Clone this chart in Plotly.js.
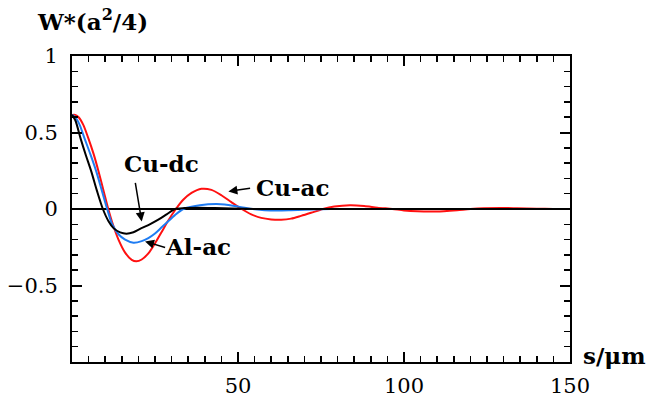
<!DOCTYPE html>
<html>
<head>
<meta charset="utf-8">
<script src="https://cdn.plot.ly/plotly-3.0.1.min.js"></script>
<style>html,body{margin:0;padding:0;background:#fff;}#chart{width:658px;height:402px;}</style>
</head>
<body>
<div id="chart"></div>
<script>
// Cu-ac (red)
const sCuAc = [0, 1, 2, 3.4, 4.8, 6.5, 8, 9.5, 10.8, 12.3, 14, 16, 18, 19.4, 21, 23, 25, 27, 29, 31.3, 33.5, 36, 39, 42, 45, 48, 51.1, 54, 57, 60, 63, 66, 69, 72, 75.6, 79, 83.7, 88, 92, 96.5, 100, 104, 108, 112, 116, 120, 124, 129, 134, 140, 145, 150];
const wCuAc = [0.615, 0.615, 0.6, 0.55, 0.47, 0.36, 0.245, 0.12, 0.01, -0.1, -0.2, -0.285, -0.333, -0.342, -0.33, -0.29, -0.225, -0.15, -0.075, 0, 0.06, 0.105, 0.132, 0.125, 0.09, 0.045, 0, -0.035, -0.058, -0.068, -0.07, -0.063, -0.045, -0.025, 0, 0.016, 0.025, 0.02, 0.009, 0, -0.009, -0.015, -0.017, -0.014, -0.008, 0, 0.005, 0.007, 0.005, 0.002, 0, 0];
// Al-ac (blue)
const sAlAc = [0, 1, 2.3, 3.8, 5.5, 7.3, 9, 10.6, 12.1, 14, 16, 18.5, 21, 23, 25, 27, 29, 31, 33.5, 36, 38.5, 41, 43.6, 46, 49, 52, 55, 58, 62, 66, 70, 75, 80, 90, 100, 150];
const wAlAc = [0.615, 0.6, 0.55, 0.46, 0.36, 0.246, 0.12, 0, -0.1, -0.165, -0.2, -0.22, -0.21, -0.19, -0.16, -0.12, -0.08, -0.04, 0, 0.015, 0.025, 0.031, 0.033, 0.03, 0.02, 0.008, -0.002, -0.008, -0.01, -0.008, -0.005, -0.002, 0, 0, 0, 0];
// Cu-dc (black)
const sCuDc = [0, 1, 2.6, 4.2, 5.8, 7.5, 9.3, 11, 12.5, 14.5, 16.4, 18.5, 20.5, 23, 26, 28.5, 31, 34, 38, 43, 48, 55, 65, 150];
const wCuDc = [0.615, 0.58, 0.46, 0.35, 0.246, 0.12, 0, -0.08, -0.125, -0.153, -0.161, -0.152, -0.13, -0.105, -0.07, -0.035, 0, 0.006, 0.008, 0.006, 0.003, 0, 0, 0];

const xTickVals = [50, 100, 150];
const xTickText = ["50", "100", "150"];
const yTickVals = [-0.5, 0, 0.5, 1];
const yTickText = ["\u22120.5", "0", "0.5", "1"];

const serif = "DejaVu Serif";

const traces = [
  {x: sCuAc, y: wCuAc, mode: "lines", line: {color: "#ff1010", width: 2, shape: "spline", smoothing: 0.8}, name: "Cu-ac"},
  {x: sAlAc, y: wAlAc, mode: "lines", line: {color: "#1f7cf2", width: 2, shape: "spline", smoothing: 0.8}, name: "Al-ac"},
  {x: sCuDc, y: wCuDc, mode: "lines", line: {color: "#000000", width: 2, shape: "spline", smoothing: 0.8}, name: "Cu-dc"}
];

const axisCommon = {
  showline: true, linewidth: 2, linecolor: "#000", mirror: "ticks",
  ticks: "inside", ticklen: 10, tickwidth: 2, tickcolor: "#000",
  showgrid: false, tickfont: {family: serif, size: 21, color: "#000"},
  tickmode: "array"
};

const layout = {
  width: 658, height: 402,
  margin: {l: 72, r: 88, t: 56, b: 40},
  paper_bgcolor: "#fff", plot_bgcolor: "#fff",
  font: {family: serif, color: "#000"},
  showlegend: false,
  xaxis: Object.assign({}, axisCommon, {
    range: [0, 150], tickvals: xTickVals, ticktext: xTickText, zeroline: false,
    ticklabelstandoff: 4,
    minor: {tickmode: "linear", tick0: 0, dtick: 5, ticks: "inside", ticklen: 6, tickwidth: 1.5, tickcolor: "#000", showgrid: false}
  }),
  yaxis: Object.assign({}, axisCommon, {
    range: [-1, 1], tickvals: yTickVals, ticktext: yTickText,
    zeroline: true, zerolinewidth: 2, zerolinecolor: "#000",
    ticklabelstandoff: 8,
    minor: {tickmode: "linear", tick0: 0, dtick: 0.1, ticks: "inside", ticklen: 6, tickwidth: 1.5, tickcolor: "#000", showgrid: false}
  }),
  annotations: [
    {xref: "paper", yref: "paper", x: -0.074, y: 1.118, xanchor: "left", yanchor: "middle",
     text: "<b>W*(a<sup>2</sup>/4)</b>", showarrow: false, font: {family: serif, size: 23, color: "#000"}},
    {xref: "paper", yref: "paper", x: 1.022, y: 0.02, xanchor: "left", yanchor: "middle",
     text: "<b>s/\u03bcm</b>", showarrow: false, font: {family: serif, size: 23, color: "#000"}},
    {x: 27.1, y: 0.30, text: "<b>Cu-dc</b>", showarrow: false, font: {family: serif, size: 23, color: "#000"}},
    {x: 66.3, y: 0.139, text: "<b>Cu-ac</b>", showarrow: false, font: {family: serif, size: 23, color: "#000"}},
    {x: 37.8, y: -0.245, text: "<b>Al-ac</b>", showarrow: false, font: {family: serif, size: 23, color: "#000"}},
    {x: 21.0, y: -0.081, ax: 19.0, ay: 0.18, axref: "x", ayref: "y", text: "", showarrow: true,
     arrowhead: 2, arrowsize: 1.2, arrowwidth: 1.5, arrowcolor: "#000", standoff: 0, startstandoff: 0},
    {x: 47.1, y: 0.115, ax: 54.1, ay: 0.137, axref: "x", ayref: "y", text: "", showarrow: true,
     arrowhead: 2, arrowsize: 1.2, arrowwidth: 1.5, arrowcolor: "#000", standoff: 0, startstandoff: 0},
    {x: 22.0, y: -0.212, ax: 28.5, ay: -0.255, axref: "x", ayref: "y", text: "", showarrow: true,
     arrowhead: 2, arrowsize: 1.2, arrowwidth: 1.5, arrowcolor: "#000", standoff: 0, startstandoff: 0}
  ]
};

Plotly.newPlot("chart", traces, layout, {displayModeBar: false, staticPlot: true});
</script>
</body>
</html>
